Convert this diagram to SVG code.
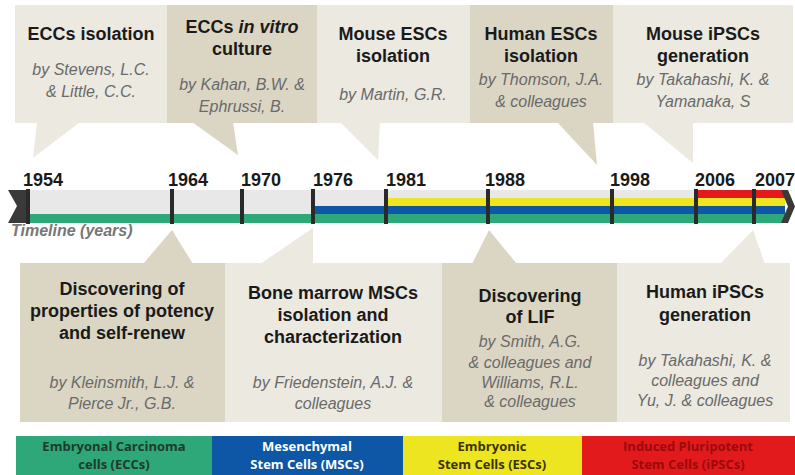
<svg xmlns="http://www.w3.org/2000/svg" width="795" height="475" viewBox="0 0 795 475">
<style>
.light{fill:#ebe9e0}
.tan{fill:#dbd6c4}
.h{font-family:"Liberation Sans",Arial,sans-serif;font-weight:bold;font-size:18px;fill:#1a1a1a;text-anchor:middle}
.a{font-family:"Liberation Sans",Arial,sans-serif;font-style:italic;font-size:16px;fill:#6a6a6a;text-anchor:middle}
.yr{font-family:"Liberation Sans",Arial,sans-serif;font-weight:bold;font-size:18px;fill:#1a1a1a}
.tick{fill:#2a2a2a}
.lg{font-family:"Open Sans","Liberation Sans",Arial,sans-serif;font-weight:bold;font-size:13px;text-anchor:middle}
</style>
<rect width="795" height="475" fill="#ffffff"/>

<!-- top nodes -->
<g id="eccs-isolation">
<rect class="light" x="15" y="5" width="152" height="118"/>
<polygon class="light" points="37,122 80,122 33,158"/>
<text class="h" x="91" y="40">ECCs isolation</text>
<text class="a" x="91" y="75">by Stevens, L.C.</text>
<text class="a" x="91" y="97">&amp; Little, C.C.</text>
</g>
<g id="eccs-in-vitro">
<rect class="tan" x="167" y="5" width="150" height="118"/>
<polygon class="tan" points="192,122 233,122 238,155"/>
<text class="h" x="242" y="33">ECCs <tspan font-style="italic">in vitro</tspan></text>
<text class="h" x="242" y="55">culture</text>
<text class="a" x="242" y="90">by Kahan, B.W. &amp;</text>
<text class="a" x="242" y="112">Ephrussi, B.</text>
</g>
<g id="mouse-escs">
<rect class="light" x="317" y="5" width="153" height="118"/>
<polygon class="light" points="340,122 380,122 378,160"/>
<text class="h" x="393" y="40">Mouse ESCs</text>
<text class="h" x="393" y="62">isolation</text>
<text class="a" x="393" y="100">by Martin, G.R.</text>
</g>
<g id="human-escs">
<rect class="tan" x="470" y="5" width="143" height="118"/>
<polygon class="tan" points="557,122 593,122 597,165"/>
<text class="h" x="541" y="40">Human ESCs</text>
<text class="h" x="541" y="62">isolation</text>
<text class="a" x="541" y="85">by Thomson, J.A.</text>
<text class="a" x="541" y="107">&amp; colleagues</text>
</g>
<g id="mouse-ipscs">
<rect class="light" x="613" y="5" width="180" height="118"/>
<polygon class="light" points="643,122 693,122 693,163"/>
<text class="h" x="703" y="40">Mouse iPSCs</text>
<text class="h" x="703" y="62">generation</text>
<text class="a" x="703" y="85">by Takahashi, K. &amp;</text>
<text class="a" x="703" y="107">Yamanaka, S</text>
</g>

<!-- timeline -->
<g id="timeline">
<rect x="28" y="190" width="757" height="33" fill="#e8e8e8"/>
<rect x="28" y="214" width="757" height="9" fill="#2ea779"/>
<rect x="313" y="206" width="472" height="8" fill="#0d57a6"/>
<rect x="386" y="198" width="399" height="8" fill="#ede51f"/>
<rect x="696" y="190" width="89" height="8" fill="#e21a1c"/>
<polygon fill="#3a3a3a" points="8,190 28,190 28,223 8,223 17,206"/>
<polygon fill="#3a3a3a" points="781,190 788,190 795,206.5 788,223 781,223 788,206.5"/>
<rect class="tick" x="26" y="189" width="4" height="35"/>
<rect class="tick" x="170" y="189" width="4" height="35"/>
<rect class="tick" x="240" y="189" width="4" height="35"/>
<rect class="tick" x="311" y="189" width="4" height="35"/>
<rect class="tick" x="384" y="189" width="4" height="35"/>
<rect class="tick" x="486" y="189" width="4" height="35"/>
<rect class="tick" x="610" y="189" width="4" height="35"/>
<rect class="tick" x="694" y="189" width="4" height="35"/>
<rect class="tick" x="752" y="189" width="4" height="35"/>
<text class="yr" x="23" y="186">1954</text>
<text class="yr" x="168" y="186">1964</text>
<text class="yr" x="241" y="186">1970</text>
<text class="yr" x="313" y="186">1976</text>
<text class="yr" x="386" y="186">1981</text>
<text class="yr" x="485" y="186">1988</text>
<text class="yr" x="610" y="186">1998</text>
<text class="yr" x="695" y="186">2006</text>
<text class="yr" x="755" y="186">2007</text>
<text x="11" y="236" font-family="Liberation Sans,Arial,sans-serif" font-weight="bold" font-style="italic" font-size="16" fill="#777777">Timeline (years)</text>
</g>

<!-- bottom nodes -->
<g id="potency">
<rect class="tan" x="20" y="263" width="205" height="159"/>
<polygon class="tan" points="143,264 193,264 172,230"/>
<text class="h" x="122" y="295">Discovering of</text>
<text class="h" x="122" y="317">properties of potency</text>
<text class="h" x="122" y="339">and self-renew</text>
<text class="a" x="122" y="388">by Kleinsmith, L.J. &amp;</text>
<text class="a" x="122" y="409">Pierce Jr., G.B.</text>
</g>
<g id="bone-marrow-mscs">
<rect class="light" x="225" y="263" width="217" height="159"/>
<polygon class="light" points="260,264 313,264 313,228"/>
<text class="h" x="333" y="299">Bone marrow MSCs</text>
<text class="h" x="333" y="321">isolation and</text>
<text class="h" x="333" y="343">characterization</text>
<text class="a" x="333" y="388">by Friedenstein, A.J. &amp;</text>
<text class="a" x="333" y="409">colleagues</text>
</g>
<g id="lif">
<rect class="tan" x="442" y="263" width="175" height="159"/>
<polygon class="tan" points="472,264 517,264 489,230"/>
<text class="h" x="530" y="302">Discovering</text>
<text class="h" x="530" y="323">of LIF</text>
<text class="a" x="530" y="347">by Smith, A.G.</text>
<text class="a" x="530" y="368">&amp; colleagues and</text>
<text class="a" x="530" y="388">Williams, R.L.</text>
<text class="a" x="530" y="407">&amp; colleagues</text>
</g>
<g id="human-ipscs">
<rect class="light" x="617" y="263" width="173" height="159"/>
<polygon class="light" points="720,264 765,264 753,230"/>
<text class="h" x="705" y="298">Human iPSCs</text>
<text class="h" x="705" y="321">generation</text>
<text class="a" x="705" y="366">by Takahashi, K. &amp;</text>
<text class="a" x="705" y="386">colleagues and</text>
<text class="a" x="705" y="406">Yu, J. &amp; colleagues</text>
</g>

<!-- legend -->
<g id="legend">
<rect x="16" y="436" width="196" height="39" fill="#2ea779"/>
<rect x="212" y="436" width="191" height="39" fill="#0d57a6"/>
<rect x="403" y="436" width="179" height="39" fill="#ede51f"/>
<rect x="582" y="436" width="213" height="39" fill="#e21a1c"/>
<text class="lg" x="114" y="451" fill="#1f3a2a">Embryonal Carcinoma</text>
<text class="lg" x="114" y="469" fill="#1f3a2a">cells (ECCs)</text>
<text class="lg" x="307" y="451" fill="#ffffff">Mesenchymal</text>
<text class="lg" x="307" y="469" fill="#ffffff">Stem Cells (MSCs)</text>
<text class="lg" x="492" y="451" fill="#3a3300">Embryonic</text>
<text class="lg" x="492" y="469" fill="#3a3300">Stem Cells (ESCs)</text>
<text class="lg" x="688" y="451" fill="#9a0a0c">Induced Pluripotent</text>
<text class="lg" x="688" y="469" fill="#9a0a0c">Stem Cells (iPSCs)</text>
</g>
</svg>
